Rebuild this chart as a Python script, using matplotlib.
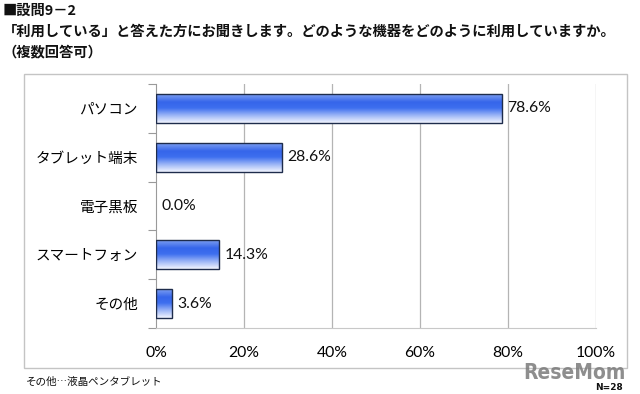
import matplotlib
matplotlib.use("Agg")
import matplotlib.pyplot as plt
import numpy as np
from matplotlib.colors import LinearSegmentedColormap
from matplotlib.patches import Rectangle

plt.rcParams['font.family'] = ['Noto Sans CJK JP', 'DejaVu Sans']

categories = ["パソコン", "タブレット端末", "電子黒板", "スマートフォン", "その他"]
values = [78.6, 28.6, 0.0, 14.3, 3.6]
value_labels = ["78.6%", "28.6%", "0.0%", "14.3%", "3.6%"]
xticks = [0, 20, 40, 60, 80, 100]
xtick_labels = ["0%", "20%", "40%", "60%", "80%", "100%"]
title_lines = ["■設問9－2",
               "「利用している」と答えた方にお聞きします。どのような機器をどのように利用していますか。",
               "（複数回答可）"]
footnote = "その他…液晶ペンタブレット"
n_label = "N=28"

W, H = 640, 394
fig = plt.figure(figsize=(W / 100, H / 100), dpi=100)
fig.patch.set_facecolor("white")

# outer chart frame
fig.patches.append(Rectangle((24 / W, 1 - 368 / H), 603 / W, 294 / H,
                             transform=fig.transFigure, fill=False,
                             edgecolor="#c4c4c4", linewidth=1.0))

ax = fig.add_axes([156 / W, 1 - 328 / H, 440 / W, 244 / H])
ax.set_xlim(0, 100)
ax.set_ylim(len(categories) - 0.5, -0.5)

cmap = LinearSegmentedColormap.from_list(
    "barg", [(0.0, "#86a6f2"), (0.3, "#3565ea"), (0.5, "#3e6fef"),
             (0.75, "#9db6f6"), (1.0, "#f2f5ff")])
grad = np.linspace(0, 1, 100).reshape(-1, 1)

bar_h = 0.6
bars = ax.barh(range(len(categories)), values, height=bar_h,
               color="none", edgecolor="#1e2c4c", linewidth=1.0, zorder=3)
for b in bars:
    x0 = b.get_x()
    w = b.get_width()
    y0 = b.get_y()
    hh = b.get_height()
    if w <= 0:
        b.set_visible(False)
        continue
    im = ax.imshow(grad, cmap=cmap, aspect="auto", origin="upper",
                   extent=(x0, x0 + w, y0 + hh, y0), zorder=2,
                   interpolation="bilinear")
    im.set_clip_path(b)
ax.set_xlim(0, 100)
ax.set_ylim(len(categories) - 0.5, -0.5)

for i, (v, lab) in enumerate(zip(values, value_labels)):
    ax.text(v + 1.3, i, lab, va="center", ha="left", fontsize=11.3,
            family=["Lato", "DejaVu Sans"], color="#111111", zorder=4)

# grid
for x in xticks[1:]:
    ax.axvline(x, color="#b4b4b4", linewidth=0.9, zorder=1)

ax.set_xticks(xticks)
ax.set_xticklabels(xtick_labels, fontsize=11.3, family=["Lato", "DejaVu Sans"])
ax.tick_params(axis="x", length=0, pad=13)

ax.set_yticks(np.arange(-0.5, len(categories), 1.0))
ax.set_yticklabels([])
ax.set_yticks(range(len(categories)), minor=True)
ax.set_yticklabels(categories, minor=True, fontsize=10.5)
ax.tick_params(axis="y", which="major", length=6, color="#9a9a9a", direction="out")
ax.tick_params(axis="y", which="minor", length=0, pad=13)

for s in ["top", "right"]:
    ax.spines[s].set_visible(False)
ax.spines["left"].set_color("#9a9a9a")
ax.spines["bottom"].set_color("#c8c8c8")

# title
ys = [11, 32, 52]
for t, y in zip(title_lines, ys):
    fig.text(3 / W, 1 - y / H, t, ha="left", va="center", fontsize=10.3,
             fontweight="bold", color="#111111")

fig.text(26 / W, 1 - 382 / H, footnote, ha="left", va="center",
         fontsize=7.6, color="#111111")
fig.text(623 / W, 1 - 387 / H, n_label, ha="right", va="center",
         fontsize=6.5, fontweight="bold", family=["DejaVu Sans"], color="#111111")
fig.text(626 / W, 1 - 379 / H, "ReseMom", ha="right", va="baseline",
         fontsize=15, fontweight="bold", fontstretch="condensed",
         family=["DejaVu Sans"], color="#7a7a7a", alpha=0.85)

fig.savefig("out.png", dpi=100, facecolor="white")
